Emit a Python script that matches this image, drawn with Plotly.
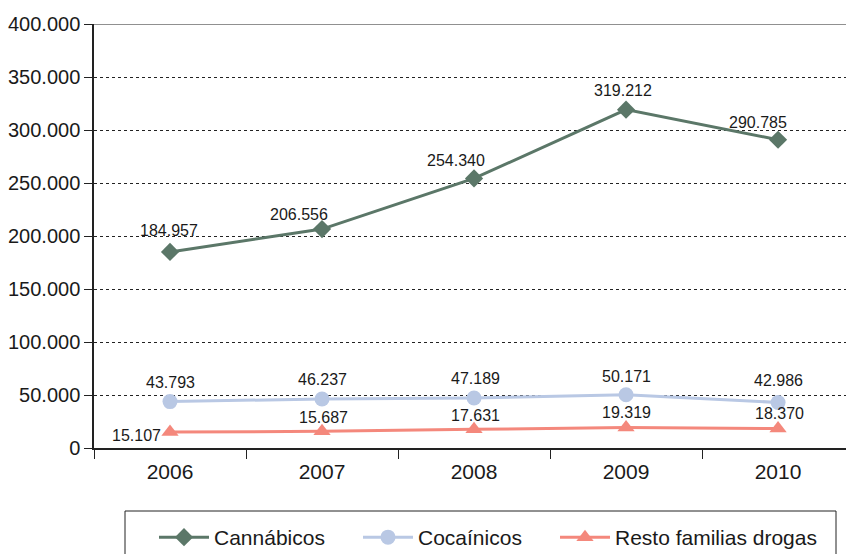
import plotly.graph_objects as go

years = ["2006", "2007", "2008", "2009", "2010"]
cannabicos = [184957, 206556, 254340, 319212, 290785]
cocainicos = [43793, 46237, 47189, 50171, 42986]
resto = [15107, 15687, 17631, 19319, 18370]
y_ticks = [0, 50000, 100000, 150000, 200000, 250000, 300000, 350000, 400000]

names = ["Cannábicos", "Cocaínicos", "Resto familias drogas"]
colors = ["#5b7768", "#b9c8e4", "#f4887c"]
symbols = ["diamond", "circle", "triangle-up"]
sizes = [14, 15, 15]
series = [cannabicos, cocainicos, resto]
legend_ids = ["legend", "legend2", "legend3"]

# label offsets (pixels) per series, per point
xshifts = [[-1, -23, -18, -3, -20], [0, 0, 1, 0, 0], [-34, 1, 1, 0, 1]]
yshifts = [[21, 15, 18, 19, 17], [19, 19, 19, 18, 22], [-4, 14, 14, 15, 15]]
legend_left_px = [154, 358, 555]

FONT = "Liberation Sans, Arial, sans-serif"
L, T, W, H = 94, 24, 846, 554
PW, PH = 752, 424

def fmt(v):
    return f"{v:,}".replace(",", ".")

fig = go.Figure()
for name, vals, col, sym, sz, lg in zip(names, series, colors, symbols, sizes, legend_ids):
    fig.add_trace(go.Scatter(
        x=years, y=vals, name=name, mode="lines+markers", legend=lg,
        line=dict(color=col, width=3),
        marker=dict(symbol=sym, size=sz, color=col),
    ))

annotations = []
for vals, xs, ys in zip(series, xshifts, yshifts):
    for i, (v, dx, dy) in enumerate(zip(vals, xs, ys)):
        annotations.append(dict(
            x=i, y=v, xref="x", yref="y", text=fmt(v), showarrow=False,
            xshift=dx, yshift=dy,
            font=dict(size=16, color="#1a1a1a", family=FONT),
        ))

fig.add_shape(type="line", xref="paper", yref="y", x0=0, x1=1, y0=400000, y1=400000,
              line=dict(color="#222", width=1))
fig.add_shape(type="rect", xref="paper", yref="paper",
              x0=(125 - L) / PW, x1=(836 - L) / PW,
              y0=(T + PH - 580) / PH, y1=(T + PH - 511) / PH,
              line=dict(color="#222", width=1), fillcolor="rgba(0,0,0,0)")

def legend_cfg(px):
    return dict(
        orientation="h", x=(px - L) / PW, xanchor="left",
        y=(T + PH - 517) / PH, yanchor="top",
        borderwidth=0, bgcolor="rgba(0,0,0,0)", font=dict(size=21, family=FONT),
        itemwidth=50,
    )

fig.update_layout(
    width=W, height=H,
    margin=dict(l=L, r=W - L - PW, t=T, b=H - T - PH, autoexpand=False),
    paper_bgcolor="white", plot_bgcolor="white",
    separators=",.",
    font=dict(family=FONT, size=20, color="#1a1a1a"),
    annotations=annotations,
    showlegend=True,
    legend=legend_cfg(legend_left_px[0]),
    legend2=legend_cfg(legend_left_px[1]),
    legend3=legend_cfg(legend_left_px[2]),
    xaxis=dict(
        type="category", range=[-0.5, 4.447],
        showline=True, linecolor="#222", linewidth=1.5,
        ticks="outside", ticklen=9, tickcolor="#222", tickson="boundaries",
        showgrid=False, zeroline=False, ticklabelstandoff=4,
        tickfont=dict(size=21),
    ),
    yaxis=dict(
        range=[0, 400000], tickvals=y_ticks, tickformat=",.0f",
        showline=True, linecolor="#222", linewidth=1.5,
        ticks="outside", ticklen=8, tickcolor="#222",
        showgrid=True, gridcolor="#222", griddash="dot", gridwidth=1,
        zeroline=False, tickfont=dict(size=20),
    ),
)

fig.write_html("out.html", config={"displayModeBar": False},
               post_script="document.body.style.margin='0';document.body.style.overflow='hidden';")
